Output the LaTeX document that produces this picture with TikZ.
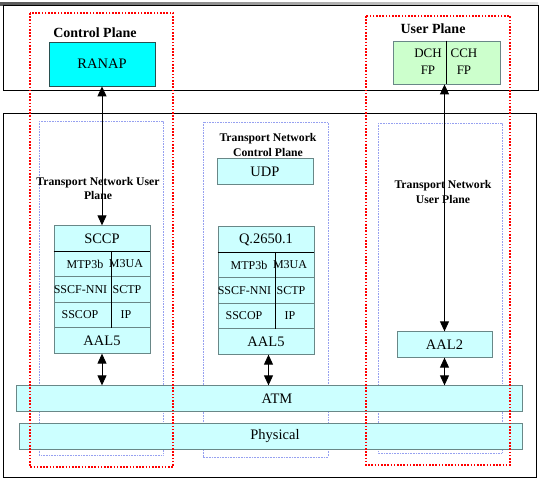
\documentclass[tikz,border=0pt]{standalone}
\usepackage{fontspec}
\setmainfont{Liberation Serif}
\usetikzlibrary{arrows.meta}
\definecolor{ranapcyan}{RGB}{0,255,255}
\definecolor{lightcyan}{RGB}{204,255,255}
\definecolor{fpgreen}{RGB}{204,255,204}
\definecolor{layeredge}{RGB}{105,135,135}
\definecolor{ranapedge}{RGB}{40,80,80}
\definecolor{tnblue}{RGB}{150,160,240}

\begin{document}
\begin{tikzpicture}[x=1pt, y=-1pt, line width=0.8pt,
	layer/.style={draw=layeredge, fill=lightcyan, minimum width=96pt, minimum height=25.5pt, inner sep=0pt, font=\fontsize{14.5}{16}\selectfont},
	cell/.style={inner sep=0pt, font=\fontsize{12}{14}\selectfont},
	planelbl/.style={font=\fontsize{14}{16}\selectfont\bfseries},
	tnlbl/.style={align=center, font=\fontsize{11.7}{14.5}\selectfont\bfseries},
	planebox/.style={draw=red, line width=1.6pt, dash pattern=on 1.6pt off 1.6pt},
	tnbox/.style={draw=tnblue, line width=0.7pt, dash pattern=on 0.8pt off 0.8pt},
	link/.style={{Triangle[width=9pt,length=10pt]}-{Triangle[width=9pt,length=10pt]}, line width=0.9pt}]
		\useasboundingbox (0,0) rectangle (542,482);
		\shade[left color=black!65, right color=black!10] (0,2.5) rectangle (538,5);
		\draw[line width=1pt] (3,5) rectangle (538,90);
		\draw[line width=1pt] (3,113) rectangle (536,477);
		\draw[tnbox] (39,121) rectangle (163,455);
		\draw[tnbox] (203,122) rectangle (328,457);
		\draw[tnbox] (378,123) rectangle (502,453);
		% top planes
		\node[planelbl] (ctrllbl) at (95,33) {Control Plane};
		\node[draw=ranapedge, fill=ranapcyan, minimum width=106pt, minimum height=44pt, inner sep=0pt, font=\fontsize{14.5}{16}\selectfont] (ranap) at (102,64) {RANAP};
		\node[planelbl] (userlbl) at (433,29) {User Plane};
		\node[draw=layeredge, fill=fpgreen, minimum width=107pt, minimum height=43pt] (fpbox) at (446.5,62.5) { };
		\node[align=center, font=\fontsize{13}{17}\selectfont] (dch) at (428,61.5) {DCH\\FP};
		\node[align=center, font=\fontsize{13}{17}\selectfont] (cch) at (464,61.5) {CCH\\FP};
		\draw (fpbox.north) -- (fpbox.south);
		% transport network labels
		\node[tnlbl] (tnuserL) at (98,188.5) {Transport Network User\\Plane};
		\node[tnlbl] (tnctrl) at (268,145) {Transport Network\\Control Plane};
		\node[tnlbl] (tnuserR) at (443,192) {Transport Network\\User Plane};
		% control plane stack
		\node[layer] (sccp) at (102,238.5) {SCCP};
		\node[layer] (cprow1) at (102,264) { };
		\node[layer] (cprow2) at (102,289.5) { };
		\node[layer] (cprow3) at (102,315) { };
		\node[layer] (cpaal5) at (102,340.5) {AAL5};
		\draw[line width=1.5pt] (sccp.south west) -- (sccp.south east);
		\draw ([xshift=58pt]cprow1.north west) -- ([xshift=58pt]cprow3.south west);
		\node[cell] (mtp3bcp) at (85,264) {MTP3b};
		\node[cell] (m3uacp) at (126,264) {M3UA};
		\node[cell] (sscfcp) at (80.5,289.5) {SSCF-NNI};
		\node[cell] (sctpcp) at (127,289.5) {SCTP};
		\node[cell] (sscopcp) at (80,315) {SSCOP};
		\node[cell] (ipcp) at (126,315) {IP};
		% transport network control plane stack
		\node[layer] (udp) at (265,171.5) {UDP};
		\node[layer] (q2650) at (266,239.5) {Q.2650.1};
		\node[layer] (tnrow1) at (266,265) { };
		\node[layer] (tnrow2) at (266,290.5) { };
		\node[layer] (tnrow3) at (266,316) { };
		\node[layer] (tnaal5) at (266,341.5) {AAL5};
		\draw[line width=1.5pt] (q2650.south west) -- (q2650.south east);
		\draw ([xshift=58pt]tnrow1.north west) -- ([xshift=58pt]tnrow3.south west);
		\node[cell] (mtp3btn) at (249,265) {MTP3b};
		\node[cell] (m3uatn) at (290,265) {M3UA};
		\node[cell] (sscftn) at (244.5,290.5) {SSCF-NNI};
		\node[cell] (sctptn) at (291,290.5) {SCTP};
		\node[cell] (sscoptn) at (244,316) {SSCOP};
		\node[cell] (iptn) at (290,316) {IP};
		% user plane
		\node[layer, minimum width=95pt] (aal2) at (444.5,344.5) {AAL2};
		\node[layer, minimum width=506pt, label={[xshift=8pt, font=\fontsize{14.5}{16}\selectfont]center:ATM}] (atm) at (269,398.5) { };
		\node[layer, minimum width=503pt, label={[xshift=4.5pt, font=\fontsize{14.5}{16}\selectfont]center:Physical}] (phys) at (270.5,436.5) { };
		% links
		\draw[link] (ranap.south) -- (ranap.south |- sccp.north);
		\draw[link] (aal2.north |- fpbox.south) -- (aal2.north);
		\draw[link] (cpaal5.south) -- (cpaal5.south |- atm.north);
		\draw[link] ([xshift=2.5pt]tnaal5.south) -- ([xshift=2.5pt]tnaal5.south |- atm.north);
		\draw[link] (aal2.south) -- (aal2.south |- atm.north);
		\draw[planebox] (30,13) rectangle (173,467);
		\draw[planebox] (366,16) rectangle (510,465);
\end{tikzpicture}
\end{document}
